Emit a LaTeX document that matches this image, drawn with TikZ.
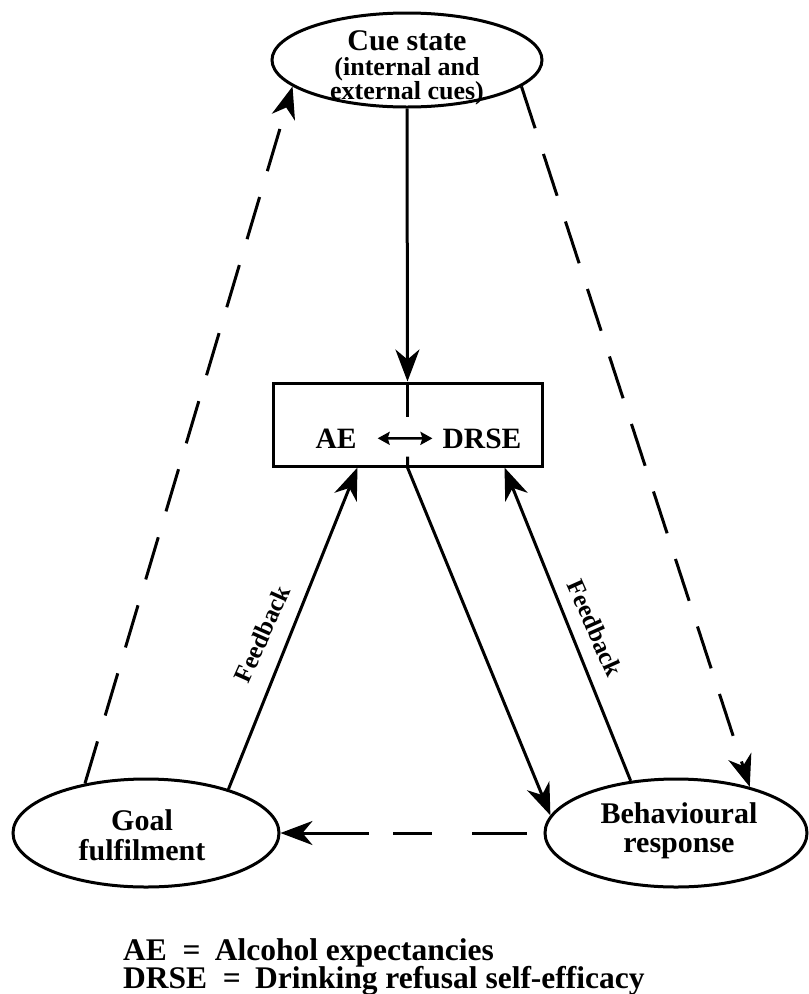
\documentclass[tikz,border=0pt]{standalone}
\usepackage{fontspec}
\setmainfont{Liberation Serif}
\usetikzlibrary{arrows.meta,shapes.geometric}
\begin{document}
\begin{tikzpicture}[x=1pt,y=-1pt,
  ln/.style={line width=3pt,line join=round},
  ell/.style={ellipse,draw,line width=3pt,inner sep=0pt},
  boxst/.style={draw,line width=3pt,inner sep=0pt},
  txt/.style={anchor=base,inner sep=0pt,font=\bfseries\fontsize{30}{30}\selectfont},
  sub/.style={anchor=base,inner sep=0pt,font=\bfseries\fontsize{26}{26}\selectfont},
  fb/.style={inner sep=0pt,font=\bfseries\fontsize{25}{25}\selectfont},
  leg/.style={anchor=base west,inner sep=0pt,font=\bfseries\fontsize{31.5}{31.5}\selectfont},
  arr/.style={ln,-{Stealth[length=32pt,width=24pt,inset=10pt]}},
  dsh/.style={arr,dash pattern=on 44pt off 27pt},
  smallarr/.style={line width=2.5pt,{Stealth[length=12pt,width=13pt,inset=2pt]}-{Stealth[length=12pt,width=13pt,inset=2pt]}}
]
\useasboundingbox (0,0) rectangle (809,994);

% ellipses and box
\node[ell,minimum width=270pt,minimum height=94pt] (cue) at (407,60) {};
\node[txt] (cue1) at (407,50) {Cue state};
\node[sub] (cue2) at (407,75) {(internal and};
\node[sub] (cue3) at (407,99) {external cues)};

\node[boxst,minimum width=269pt,minimum height=83pt] (box) at (407.5,424.5) {};
\node[txt,font=\bfseries\fontsize{29.5}{29.5}\selectfont] (ae) at (336,448) {AE};
\node[txt,font=\bfseries\fontsize{29.5}{29.5}\selectfont] (drse) at (482,448) {DRSE};

\node[ell,minimum width=266pt,minimum height=108pt] (goal) at (146,833) {};
\node[txt] (goal1) at (142,830) {Goal};
\node[txt] (goal2) at (142,860) {fulfilment};

\node[ell,minimum width=262pt,minimum height=108pt] (beh) at (676,833) {};
\node[txt] (beh1) at (679,823) {Behavioural};
\node[txt] (beh2) at (679,852) {response};

% connectors
\draw[arr] (cue.south) -- (box.north);
\draw[ln] (box.north) -- ++(0,35);
\draw[arr] ([yshift=11pt]box.south) -- (box.south) -- (beh.172);
\draw[smallarr,shorten <=21pt,shorten >=10pt] (ae.east) -- (drse.west);

\draw[arr] (goal.28) -- ([xshift=-50pt]box.south);
\draw[arr] (beh.131) -- ([xshift=97pt]box.south);

\draw[dsh] (goal.141) -- (cue.193);
\draw[dsh] (cue.-13) -- (beh.32);
\draw[arr,dash pattern=on 55pt off 40pt on 39pt off 24pt on 300pt] ([xshift=-17pt]beh.west) -- (goal.east);

% labels
\node[fb,rotate=66] (fb1) at (262,634) {Feedback};
\node[fb,rotate=-66] (fb2) at (595,628) {Feedback};

% legend
\node[leg] (leg1) at (123,960) {AE\hspace{0.5em}=\hspace{0.45em}Alcohol expectancies};
\node[leg] (leg2) at (123,988) {DRSE\hspace{0.5em}=\hspace{0.45em}Drinking refusal self-efficacy};
\end{tikzpicture}
\end{document}
